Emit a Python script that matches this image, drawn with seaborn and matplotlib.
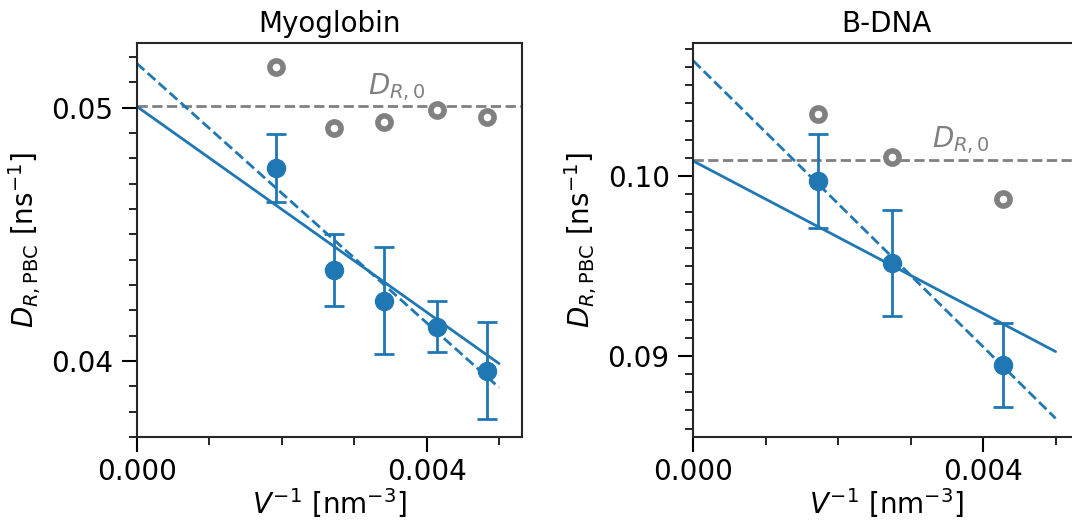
import numpy as np
import pandas as pd
import matplotlib
matplotlib.use("Agg")
import matplotlib.pyplot as plt
import seaborn as sns
from matplotlib.ticker import MultipleLocator

# ---------------- data ----------------
titles = ["Myoglobin", "B-DNA"]

myo_x = [0.001927, 0.002717, 0.003411, 0.004147, 0.004832]
myo_y = [0.04761, 0.04359, 0.04238, 0.04136, 0.03962]
myo_err = [0.00134, 0.00143, 0.00210, 0.00100, 0.00190]
myo_y0 = [0.05162, 0.04921, 0.04942, 0.04991, 0.04962]
myo_dr0 = 0.05007
myo_fit_solid = [0.05005, -2.03]     # intercept, slope
myo_fit_dashed = [0.05175, -2.56]

dna_x = [0.001724, 0.002739, 0.004269]
dna_y = [0.09971, 0.09515, 0.08952]
dna_err = [0.00259, 0.00293, 0.00232]
dna_y0 = [0.10340, 0.10103, 0.09869]
dna_dr0 = 0.10087
dna_fit_solid = [0.10081, -2.11]
dna_fit_dashed = [0.10636, -3.96]

fit_x_range = [0.0, 0.005]

panels = [
    dict(title=titles[0], x=myo_x, y=myo_y, err=myo_err, y0=myo_y0, dr0=myo_dr0,
         fs=myo_fit_solid, fd=myo_fit_dashed, ylim=(0.0370, 0.05254),
         lab=(0.003586, 0.05082)),
    dict(title=titles[1], x=dna_x, y=dna_y, err=dna_err, y0=dna_y0, dr0=dna_dr0,
         fs=dna_fit_solid, fd=dna_fit_dashed, ylim=(0.08553, 0.10733),
         lab=(0.003693, 0.10198)),
]

# ---------------- style ----------------
sns.set_style("ticks")
FS = 20
plt.rcParams.update({
    "font.family": ["DejaVu Sans"],
    "font.size": FS,
    "text.color": "black",
    "axes.labelcolor": "black",
    "xtick.color": "black",
    "ytick.color": "black",
    "axes.edgecolor": "#262626",
    "axes.linewidth": 1.5,
    "mathtext.fontset": "dejavusans",
})

blue = "#1f77b4"
gray = "#808080"

fig = plt.figure(figsize=(10.72, 5.23), dpi=100)
W, H = 1072.0, 523.0
ax_w = 385.5 / W
ax_h = (437.0 - 43.3) / H
ax_b = (H - 437.0) / H
axes = [fig.add_axes([136.7 / W, ax_b, ax_w, ax_h]),
        fig.add_axes([693.3 / W, ax_b, ax_w, ax_h])]

for ax, p in zip(axes, panels):
    xf = np.array(fit_x_range)
    line_df = pd.DataFrame({
        "x": np.concatenate([xf, xf]),
        "y": np.concatenate([p["fs"][0] + p["fs"][1] * xf,
                             p["fd"][0] + p["fd"][1] * xf]),
        "kind": ["solid"] * 2 + ["dashed"] * 2,
    })
    ax.axhline(p["dr0"], color=gray, lw=2, ls="--", zorder=1)
    sns.lineplot(data=line_df[line_df.kind == "solid"], x="x", y="y", ax=ax,
                 color=blue, lw=2, zorder=2, legend=False)
    sns.lineplot(data=line_df[line_df.kind == "dashed"], x="x", y="y", ax=ax,
                 color=blue, lw=2, ls="--", zorder=2, legend=False)

    ax.errorbar(p["x"], p["y"], yerr=p["err"], fmt="none", ecolor=blue,
                elinewidth=2, capsize=7, capthick=2, zorder=3)
    pts = pd.DataFrame({"x": p["x"], "y": p["y"], "y0": p["y0"]})
    sns.scatterplot(data=pts, x="x", y="y", ax=ax, color=blue, s=13 ** 2,
                    edgecolor=blue, linewidth=1, zorder=4, legend=False)
    sns.scatterplot(data=pts, x="x", y="y0", ax=ax, facecolor="white",
                    edgecolor=gray, s=9.5 ** 2, linewidth=4, zorder=4,
                    legend=False)

    ax.text(p["lab"][0], p["lab"][1], r"$D_{R,0}$", color=gray, fontsize=FS,
            ha="center", va="center")

    ax.set_xlim(0, 0.00532)
    ax.set_ylim(*p["ylim"])
    ax.xaxis.set_major_locator(MultipleLocator(0.004))
    ax.xaxis.set_minor_locator(MultipleLocator(0.001))
    ax.yaxis.set_major_locator(MultipleLocator(0.01))
    ax.yaxis.set_minor_locator(MultipleLocator(0.001))
    ax.tick_params(which="major", length=11, width=1.5, labelsize=FS, pad=6)
    ax.tick_params(axis="x", which="major", pad=4)
    ax.tick_params(which="minor", length=5.5, width=1.2)
    for s in ax.spines.values():
        s.set_visible(True)
        s.set_linewidth(1.5)
    ax.set_title(p["title"], fontsize=FS, pad=8)
    ax.set_xlabel(r"$V^{-1}$ [nm$^{-3}$]", fontsize=FS, labelpad=0)
    ax.set_ylabel(r"$D_{R,\mathrm{PBC}}$ [ns$^{-1}$]", fontsize=FS, labelpad=6)

fig.savefig("out.png", dpi=100)
